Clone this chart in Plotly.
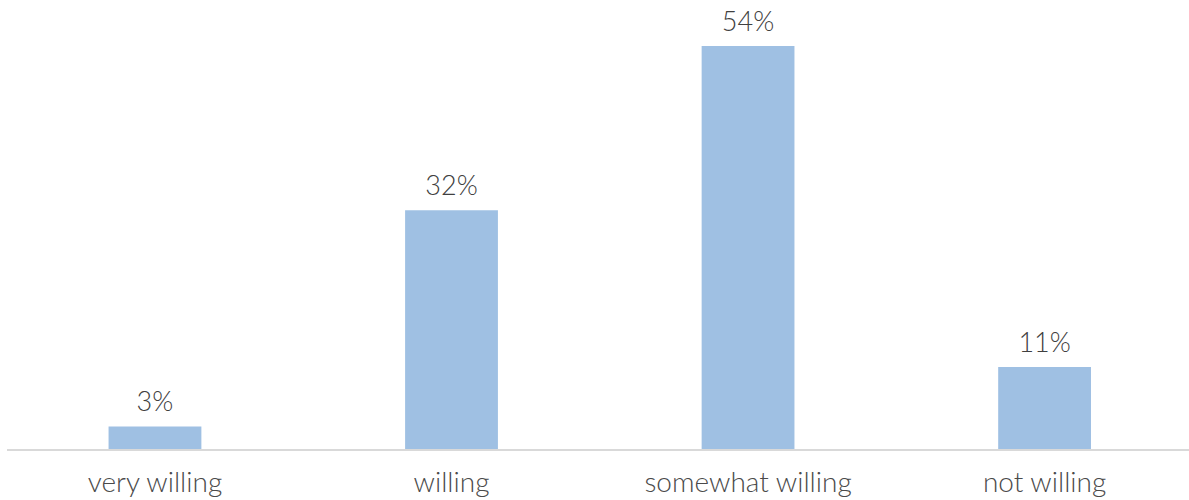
import plotly.graph_objects as go

categories = ["very willing", "willing", "somewhat willing", "not willing"]
values = [3, 32, 54, 11]
labels = [f"{v}%" for v in values]

fig = go.Figure()
fig.add_trace(
    go.Bar(
        x=categories,
        y=values,
        width=0.313,
        marker=dict(color="#9fc0e3", line=dict(width=0)),
        hoverinfo="skip",
    )
)
fig.add_trace(
    go.Scatter(
        x=categories,
        y=values,
        mode="markers+text",
        marker=dict(size=12, color="rgba(0,0,0,0)"),
        text=labels,
        textposition="top center",
        textfont=dict(size=27, color="#404040", family="Lato", weight=300),
        cliponaxis=False,
    )
)

fig.update_layout(
    width=1189,
    height=500,
    margin=dict(l=7, r=0, t=0, b=51),
    plot_bgcolor="white",
    paper_bgcolor="white",
    showlegend=False,
    font=dict(family="Lato", color="#595959"),
    xaxis=dict(
        type="category",
        range=[-0.499, 3.487],
        showline=True,
        linecolor="#d9d9d9",
        linewidth=2,
        ticks="outside",
        ticklen=7,
        tickcolor="rgba(0,0,0,0)",
        tickfont=dict(size=28, color="#4a4a4a", family="Lato", weight=300),
        showgrid=False,
    ),
    yaxis=dict(
        range=[0, 60.16],
        visible=False,
        showgrid=False,
        zeroline=False,
    ),
)

fig.write_html("out.html")
